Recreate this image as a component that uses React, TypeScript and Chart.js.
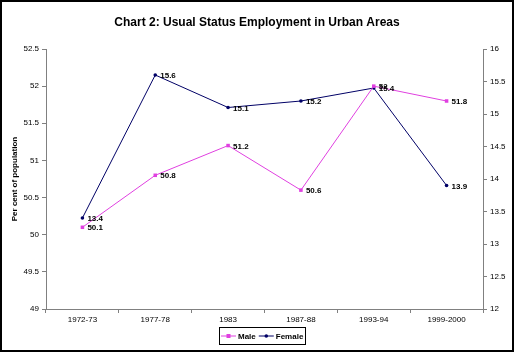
import React, { useEffect, useRef } from "react";
import { Chart, registerables } from "chart.js";

Chart.register(...registerables);

const categories = ["1972-73", "1977-78", "1983", "1987-88", "1993-94", "1999-2000"];
const maleValues = [50.1, 50.8, 51.2, 50.6, 52.0, 51.8];
const femaleValues = [13.4, 15.6, 15.1, 15.2, 15.4, 13.9];
const maleLabels = ["50.1", "50.8", "51.2", "50.6", "52", "51.8"];
const femaleLabels = ["13.4", "15.6", "15.1", "15.2", "15.4", "13.9"];

const MALE_COLOR = "#E040E0";
const FEMALE_COLOR = "#000066";
const FONT = "Arial, 'Liberation Sans', sans-serif";

const labelPlugin = {
  id: "dataLabels",
  afterDatasetsDraw(chart: any) {
    const ctx = chart.ctx;
    ctx.save();
    ctx.font = `bold 8px ${FONT}`;
    ctx.fillStyle = "#000";
    ctx.textBaseline = "middle";
    ctx.textAlign = "left";
    const sets = [maleLabels, femaleLabels];
    chart.data.datasets.forEach((_ds: any, i: number) => {
      const meta = chart.getDatasetMeta(i);
      meta.data.forEach((pt: any, j: number) => {
        ctx.fillText(sets[i][j], pt.x + 5, pt.y + 1);
      });
    });
    ctx.restore();
  },
};

const framePlugin = {
  id: "frameLegend",
  afterDraw(chart: any) {
    const ctx = chart.ctx;
    ctx.save();
    ctx.strokeStyle = "#000";
    ctx.lineWidth = 2;
    ctx.strokeRect(1, 1, chart.width - 2, chart.height - 2);

    ctx.font = `bold 8px ${FONT}`;
    const items = [
      { text: "Male", color: MALE_COLOR, rect: true },
      { text: "Female", color: FEMALE_COLOR, rect: false },
    ];
    const lineLen = 15, gap = 2, pad = 2;
    let total = pad;
    items.forEach((it, i) => {
      total += lineLen + gap + ctx.measureText(it.text).width + (i < items.length - 1 ? gap + 1 : pad);
    });
    const lw = Math.round(total);
    const lx = Math.round(262 - lw / 2), ly = 327, lh = 17;
    ctx.lineWidth = 1;
    ctx.strokeStyle = "#000";
    ctx.strokeRect(lx + 0.5, ly + 0.5, lw, lh);
    const cy = ly + lh / 2 + 0.5;
    ctx.textBaseline = "middle";
    let x = lx + pad;
    items.forEach((it) => {
      ctx.strokeStyle = it.color;
      ctx.beginPath();
      ctx.moveTo(x, cy);
      ctx.lineTo(x + lineLen, cy);
      ctx.stroke();
      ctx.fillStyle = it.color;
      if (it.rect) {
        ctx.fillRect(x + lineLen / 2 - 2, cy - 2, 4, 4);
      } else {
        ctx.beginPath();
        ctx.arc(x + lineLen / 2, cy, 1.8, 0, Math.PI * 2);
        ctx.fill();
      }
      x += lineLen + gap;
      ctx.fillStyle = "#000";
      ctx.fillText(it.text, x, cy + 0.5);
      x += ctx.measureText(it.text).width + gap + 1;
    });
    ctx.restore();
  },
};

const fmt = (v: any) => String(Math.round(Number(v) * 10) / 10);

export default function App() {
  const ref = useRef<HTMLCanvasElement>(null);
  useEffect(() => {
    if (!ref.current) return;
    const chart = new Chart(ref.current, {
      type: "line",
      data: {
        labels: categories,
        datasets: [
          {
            label: "Male",
            data: maleValues,
            yAxisID: "y",
            borderColor: MALE_COLOR,
            backgroundColor: MALE_COLOR,
            borderWidth: 1,
            pointStyle: "rect",
            pointRadius: 2.5,
            pointBorderWidth: 0,
            tension: 0,
          },
          {
            label: "Female",
            data: femaleValues,
            yAxisID: "y1",
            borderColor: FEMALE_COLOR,
            backgroundColor: FEMALE_COLOR,
            borderWidth: 1,
            pointStyle: "circle",
            pointRadius: 1.8,
            pointBorderWidth: 0,
            tension: 0,
          },
        ],
      },
      options: {
        responsive: false,
        animation: false,
        layout: { padding: { top: 0, bottom: 25, left: 0, right: 0 } },
        plugins: {
          legend: { display: false },
          tooltip: { enabled: false },
          title: {
            display: true,
            text: "Chart 2: Usual Status Employment in Urban Areas",
            color: "#000",
            font: { family: FONT, size: 12, weight: "bold" },
            padding: { top: 15, bottom: 19.6 },
          },
        },
        scales: {
          x: {
            offset: true,
            grid: {
              offset: true,
              drawOnChartArea: false,
              drawTicks: true,
              tickLength: 4,
              color: "#808080",
            },
            border: { color: "#808080" },
            ticks: {
              color: "#000",
              font: { family: FONT, size: 8 },
              padding: 2,
              maxRotation: 0,
              autoSkip: false,
            },
            afterFit(scale: any) {
              scale.height = 18;
            },
          },
          y: {
            position: "left",
            min: 49,
            max: 52.5,
            ticks: {
              stepSize: 0.5,
              color: "#000",
              font: { family: FONT, size: 8 },
              padding: 3,
              callback: fmt,
            },
            grid: { drawOnChartArea: false, tickLength: 4, color: "#808080" },
            border: { color: "#808080" },
            title: {
              display: true,
              text: "Per cent of population",
              color: "#000",
              font: { family: FONT, size: 8, weight: "bold" },
              padding: { top: 10, bottom: 0 },
            },
            afterFit(scale: any) {
              scale.width = 46;
            },
          },
          y1: {
            position: "right",
            min: 12,
            max: 16,
            ticks: {
              stepSize: 0.5,
              color: "#000",
              font: { family: FONT, size: 8 },
              padding: 3,
              callback: fmt,
            },
            grid: { drawOnChartArea: false, tickLength: 4, color: "#808080" },
            border: { color: "#808080" },
            afterFit(scale: any) {
              scale.width = 31;
            },
          },
        },
      },
      plugins: [labelPlugin, framePlugin],
    });
    return () => chart.destroy();
  }, []);
  return (
    <div style={{ position: "absolute", left: 0, top: 0, width: 514, height: 352, background: "#fff" }}>
      <canvas ref={ref} width={514} height={352} />
    </div>
  );
}
